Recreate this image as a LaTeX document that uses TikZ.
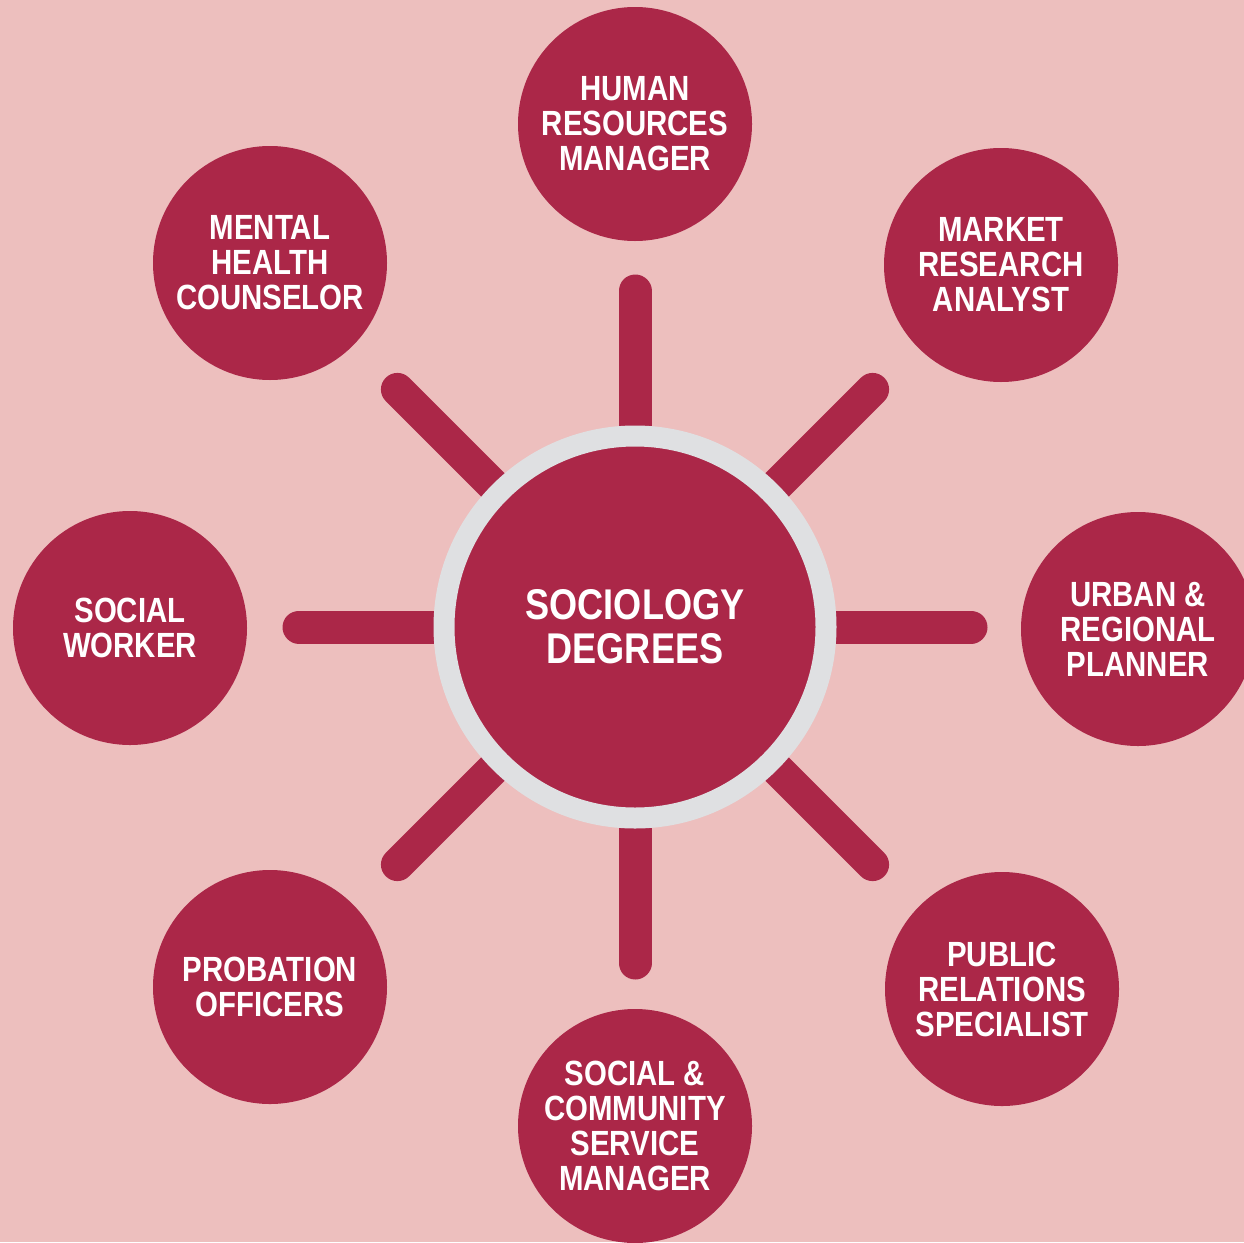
\documentclass[tikz,border=0pt]{standalone}
\usepackage{fontspec}
\setmainfont{Liberation Sans}[FakeStretch=0.84]
\usetikzlibrary{calc}
\definecolor{bgpink}{HTML}{EDBFBE}
\definecolor{wine}{HTML}{AB2748}
\definecolor{ringgray}{HTML}{DFE0E2}
\tikzset{
  career/.style={circle, fill=wine, minimum size=234pt, inner sep=0pt, text=white, align=center,
    font=\bfseries\fontsize{35}{35}\selectfont},
  hub/.style={circle, fill=wine, draw=ringgray, line width=21pt, minimum size=382pt, inner sep=0pt,
    text=white, align=center, font=\bfseries\fontsize{43}{44}\selectfont},
  spoke/.style={draw=wine, line width=33pt, line cap=round}
}
\begin{document}
\begin{tikzpicture}[x=1pt, y=-1pt]
\fill[bgpink] (0,0) rectangle (1244,1242);
\useasboundingbox (0,0) rectangle (1244,1242);
\coordinate (c) at (635,627);
\foreach \a/\n in {0/e,45/se,90/s,135/sw,180/w,225/nw,270/n,315/ne}{
  \coordinate (tip-\n) at ($(c)+(\a:336)$);
  \draw[spoke] (c) -- (tip-\n);
}
\node[hub] (hub) at (c) {SOCIOLOGY\\DEGREES};
\node[career] (hr) at (635,124) {HUMAN\\RESOURCES\\MANAGER};
\node[career] (mra) at (1001,265) {MARKET\\RESEARCH\\ANALYST};
\node[career] (urp) at (1138,629) {URBAN \&\\REGIONAL\\PLANNER};
\node[career] (prs) at (1002,989) {PUBLIC\\RELATIONS\\SPECIALIST};
\node[career] (scs) at (635,1126) {SOCIAL \&\\COMMUNITY\\SERVICE\\MANAGER};
\node[career] (po) at (270,987) {PROBATION\\OFFICERS};
\node[career] (sw) at (130,628) {SOCIAL\\WORKER};
\node[career] (mhc) at (270,263) {MENTAL\\HEALTH\\COUNSELOR};
\end{tikzpicture}
\end{document}
